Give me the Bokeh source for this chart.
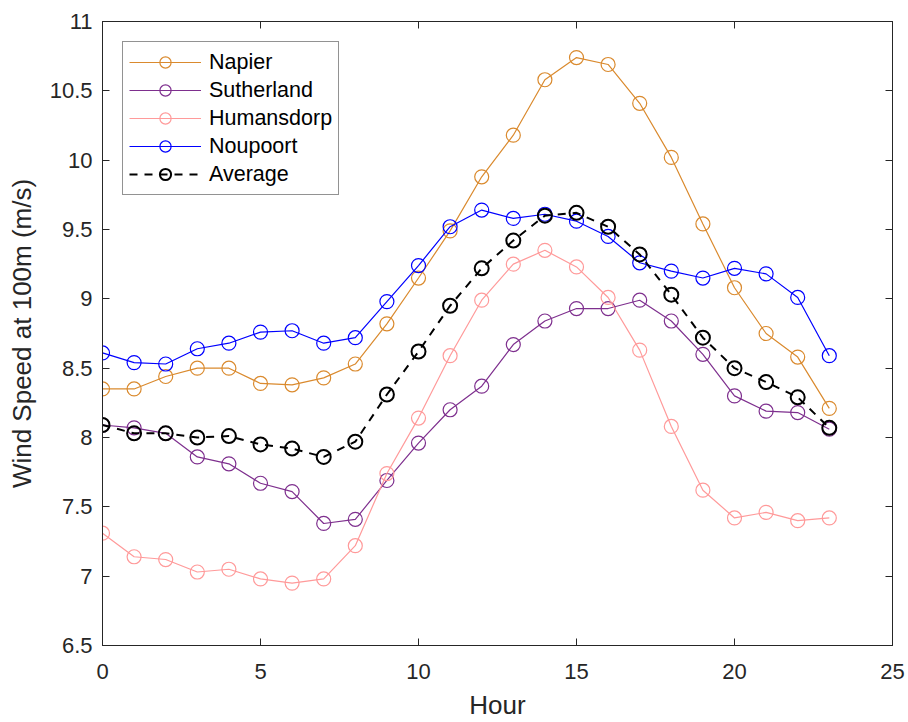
from bokeh.plotting import figure
from bokeh.models import LinearAxis, Legend, LegendItem, FixedTicker, CustomJSTickFormatter, Range1d
from bokeh.embed import file_html
from bokeh.resources import INLINE

hours = list(range(24))
napier = [8.35, 8.35, 8.44, 8.50, 8.50, 8.39, 8.38, 8.43, 8.53, 8.82, 9.15, 9.49,
          9.88, 10.18, 10.58, 10.74, 10.69, 10.41, 10.02, 9.54, 9.08, 8.75, 8.58, 8.21]
sutherland = [8.09, 8.07, 8.03, 7.86, 7.81, 7.67, 7.61, 7.38, 7.41, 7.69, 7.96, 8.20,
              8.37, 8.67, 8.84, 8.93, 8.93, 8.99, 8.84, 8.60, 8.30, 8.19, 8.18, 8.06]
humansdorp = [7.31, 7.14, 7.12, 7.03, 7.05, 6.98, 6.95, 6.98, 7.22, 7.74, 8.14, 8.59,
              8.99, 9.25, 9.35, 9.23, 9.01, 8.63, 8.08, 7.62, 7.42, 7.46, 7.40, 7.42]
noupoort = [8.61, 8.54, 8.53, 8.64, 8.68, 8.76, 8.77, 8.68, 8.72, 8.98, 9.24, 9.52,
            9.64, 9.58, 9.61, 9.56, 9.45, 9.26, 9.20, 9.15, 9.22, 9.18, 9.01, 8.59]
average = [8.09, 8.03, 8.03, 8.00, 8.01, 7.95, 7.92, 7.86, 7.97, 8.31, 8.62, 8.95,
           9.22, 9.42, 9.60, 9.62, 9.52, 9.32, 9.03, 8.72, 8.50, 8.40, 8.29, 8.07]

series_names = ["Napier", "Sutherland", "Humansdorp", "Noupoort", "Average"]
x_ticks = [0, 5, 10, 15, 20, 25]
y_ticks = [6.5, 7, 7.5, 8, 8.5, 9, 9.5, 10, 10.5, 11]
y_tick_labels = ["6.5", "7", "7.5", "8", "8.5", "9", "9.5", "10", "10.5", "11"]

FONT = "Liberation Sans"
TXT = "#262626"

p = figure(width=908, height=722, output_backend="svg", toolbar_location=None,
           x_range=Range1d(0, 25), y_range=Range1d(6.5, 11),
           min_border_left=102, min_border_right=16, min_border_top=21, min_border_bottom=77)
p.background_fill_color = "white"
p.border_fill_color = "white"
p.outline_line_color = TXT
p.outline_line_width = 1
p.xgrid.visible = False
p.ygrid.visible = False

def style_axis(ax, show_labels=True):
    ax.axis_line_color = TXT
    ax.major_tick_line_color = TXT
    ax.major_tick_in = 7
    ax.major_tick_out = 0
    ax.minor_tick_line_color = None
    ax.major_label_text_font = FONT
    ax.major_label_text_font_size = "22px"
    ax.major_label_text_color = TXT
    ax.axis_label_text_font = FONT
    ax.axis_label_text_font_size = "26px"
    ax.axis_label_text_font_style = "normal"
    ax.axis_label_text_color = TXT
    if not show_labels:
        ax.formatter = CustomJSTickFormatter(code="return ''")
        ax.major_label_standoff = 0

xa = p.xaxis[0]
ya = p.yaxis[0]
xa.ticker = FixedTicker(ticks=x_ticks)
ya.ticker = FixedTicker(ticks=y_ticks)
ya.major_label_overrides = {t: l for t, l in zip(y_ticks, y_tick_labels)}
style_axis(xa)
style_axis(ya)
xa.axis_label = "Hour"
ya.axis_label = "Wind Speed at 100m (m/s)"
xa.major_label_standoff = 18
ya.major_label_standoff = 10
xa.axis_label_standoff = 8
ya.axis_label_standoff = 10

ra = LinearAxis(ticker=FixedTicker(ticks=y_ticks))
ta = LinearAxis(ticker=FixedTicker(ticks=x_ticks))
style_axis(ra, False)
style_axis(ta, False)
p.add_layout(ra, "right")
p.add_layout(ta, "above")

colors = ["#DA8A2E", "#7E2F8E", "#FF9A9A", "#0000FF", "#000000"]
data = [napier, sutherland, humansdorp, noupoort, average]
items = []
for name, ys, c in zip(series_names, data, colors):
    if name == "Average":
        lr = p.line(hours, ys, line_color=c, line_width=2, line_dash="8 7")
        sr = p.scatter(hours, ys, size=14, marker="circle", fill_color=None, line_color=c, line_width=2)
    else:
        lr = p.line(hours, ys, line_color=c, line_width=1.2)
        sr = p.scatter(hours, ys, size=14, marker="circle", fill_color=None, line_color=c, line_width=1.2)
    items.append(LegendItem(label=name, renderers=[lr, sr]))

legend = Legend(items=items, location="top_left")
legend.margin = 20
legend.padding = 6
legend.spacing = 0
legend.glyph_width = 72
legend.glyph_height = 28
legend.label_height = 21
legend.label_standoff = 8
legend.label_text_font = FONT
legend.label_text_font_size = "21.5px"
legend.label_text_color = "#000000"
legend.border_line_color = TXT
legend.border_line_width = 1
legend.background_fill_color = "white"
legend.background_fill_alpha = 1
p.add_layout(legend, "center")

open("out.html", "w").write(file_html(p, INLINE))
